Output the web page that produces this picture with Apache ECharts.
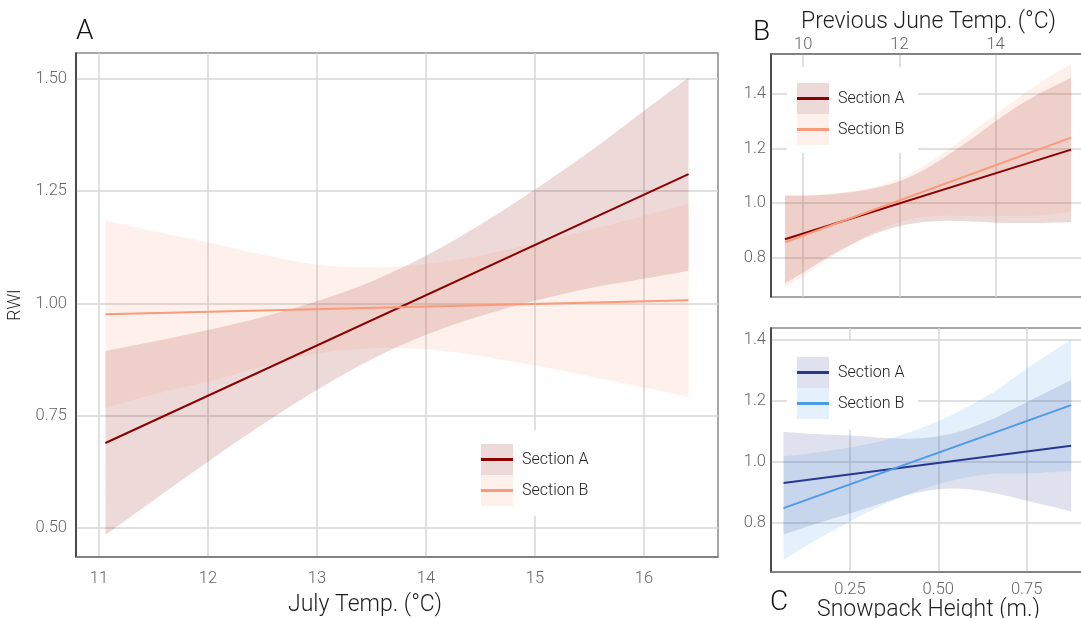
<!DOCTYPE html>
<html>
<head>
<meta charset="utf-8">
<title>RWI vs climate</title>
<script src="https://cdn.jsdelivr.net/npm/echarts@6/dist/echarts.min.js"></script>
<style>
  html, body { margin: 0; padding: 0; background: #fff; }
  #chart { width: 1081px; height: 618px; }
</style>
</head>
<body>
<div id="chart"></div>
<script>
// ---- panel A : July temperature ----
const julyTicks = [11, 12, 13, 14, 15, 16]
const rwiTicksA = [0.5, 0.75, 1.0, 1.25, 1.5]
const julyLineX = [11.06, 16.41]
const julySecA = [0.689, 1.288]
const julySecB = [0.976, 1.007]
const julyBandX = [11.06, 11.5, 12, 12.5, 13, 13.5, 14, 14.5, 15, 15.5, 16, 16.41]
const julyAUp = [0.894, 0.915, 0.941, 0.970, 1.005, 1.049, 1.106, 1.176, 1.254, 1.338, 1.429, 1.503]
const julyALo = [0.484, 0.561, 0.647, 0.730, 0.807, 0.875, 0.930, 0.972, 1.006, 1.034, 1.055, 1.073]
const julyBUp = [1.185, 1.161, 1.136, 1.109, 1.086, 1.080, 1.088, 1.107, 1.134, 1.164, 1.195, 1.222]
const julyBLo = [0.767, 0.797, 0.826, 0.859, 0.888, 0.900, 0.898, 0.883, 0.862, 0.838, 0.813, 0.792]

// ---- panel B : previous June temperature ----
const juneTicks = [10, 12, 14]
const rwiTicksB = [0.8, 1.0, 1.2, 1.4]
const juneLineX = [9.62, 15.57]
const juneSecA = [0.867, 1.196]
const juneSecB = [0.856, 1.240]
const juneBandX = [9.62, 10, 10.5, 11, 11.5, 12, 12.5, 13, 13.5, 14, 14.5, 15, 15.57]
const juneAUp = [1.027, 1.027, 1.030, 1.040, 1.055, 1.080, 1.120, 1.175, 1.235, 1.300, 1.360, 1.410, 1.460]
const juneALo = [0.705, 0.745, 0.800, 0.848, 0.888, 0.915, 0.930, 0.935, 0.932, 0.928, 0.927, 0.927, 0.929]
const juneBUp = [1.030, 1.030, 1.033, 1.043, 1.060, 1.090, 1.135, 1.195, 1.260, 1.325, 1.390, 1.450, 1.510]
const juneBLo = [0.692, 0.732, 0.793, 0.847, 0.894, 0.930, 0.949, 0.953, 0.952, 0.953, 0.952, 0.956, 0.969]

// ---- panel C : snowpack height ----
const snowTicks = [0.25, 0.5, 0.75]
const rwiTicksC = [0.8, 1.0, 1.2, 1.4]
const snowLineX = [0.062, 0.876]
const snowSecA = [0.929, 1.052]
const snowSecB = [0.847, 1.185]
const snowBandX = [0.062, 0.15, 0.25, 0.35, 0.45, 0.55, 0.65, 0.75, 0.876]
const snowAUp = [1.098, 1.090, 1.085, 1.077, 1.076, 1.095, 1.138, 1.195, 1.268]
const snowALo = [0.760, 0.794, 0.829, 0.867, 0.900, 0.911, 0.898, 0.871, 0.836]
const snowBUp = [1.017, 1.029, 1.047, 1.071, 1.109, 1.160, 1.223, 1.305, 1.401]
const snowBLo = [0.677, 0.739, 0.803, 0.861, 0.907, 0.940, 0.959, 0.961, 0.969]

const FONT = 'Roboto, "Liberation Sans", sans-serif'
const red = '#8b0000', salmon = '#fb9a78', navy = '#26388f', sky = '#4c9be8'
const redBand = 'rgba(139,0,0,0.15)', salmonBand = 'rgba(251,154,120,0.15)'
const navyBand = 'rgba(38,56,143,0.15)', skyBand = 'rgba(76,155,232,0.15)'

const tickText = { color: '#666', fontSize: 16.5, fontFamily: FONT, fontWeight: 300 }
const nameText = { color: '#1e1e1e', fontSize: 23, fontFamily: FONT, fontWeight: 300 }

function axis(gridIndex, min, max, ticks, digits, extra) {
  return Object.assign({
    type: 'value', gridIndex: gridIndex, min: min, max: max,
    axisLine: { show: true, onZero: false, lineStyle: { color: '#777', width: 1.5 } },
    axisTick: { show: false, customValues: ticks },
    axisLabel: Object.assign({ customValues: ticks, margin: 8, formatter: v => v.toFixed(digits) }, tickText),
    splitLine: { show: true, lineStyle: { color: '#d6d6d6', width: 1.5 } },
    nameLocation: 'middle',
    nameTextStyle: nameText
  }, extra || {})
}
const darkLine = { show: true, onZero: false, lineStyle: { color: '#2a2a2a', width: 1.5 } }

// smooth path through screen points (catmull-rom as bezier)
function curve(p) {
  let d = ''
  for (let i = 0; i < p.length - 1; i++) {
    const a = p[Math.max(i - 1, 0)], b = p[i], c = p[i + 1], e = p[Math.min(i + 2, p.length - 1)]
    d += ' C' + (b[0] + (c[0] - a[0]) / 6) + ',' + (b[1] + (c[1] - a[1]) / 6) + ' ' +
      (c[0] - (e[0] - b[0]) / 6) + ',' + (c[1] - (e[1] - b[1]) / 6) + ' ' + c[0] + ',' + c[1]
  }
  return d
}

function band(name, g, xs, lo, hi, fill) {
  return {
    type: 'custom', name: name, xAxisIndex: g, yAxisIndex: g, silent: true,
    data: xs.map((x, i) => [x, lo[i], hi[i]]),
    encode: { x: 0, y: [1, 2] },
    renderItem: function (params, api) {
      if (params.dataIndex !== 0) return null
      const up = xs.map((x, i) => api.coord([x, hi[i]]))
      const dn = xs.map((x, i) => api.coord([x, lo[i]])).reverse()
      const d = 'M' + up[0][0] + ',' + up[0][1] + curve(up) +
        ' L' + dn[0][0] + ',' + dn[0][1] + curve(dn) + ' Z'
      return { type: 'path', shape: { pathData: d }, style: { fill: fill } }
    }
  }
}

function line(name, g, xs, ys, color) {
  return {
    type: 'line', name: name, xAxisIndex: g, yAxisIndex: g,
    data: xs.map((x, i) => [x, ys[i]]),
    showSymbol: false, silent: true,
    lineStyle: { color: color, width: 2 }, itemStyle: { color: color }
  }
}

function legend(left, top, names) {
  return {
    orient: 'vertical', left: left, top: top, padding: 0, itemGap: 0,
    itemWidth: 32, itemHeight: 3, icon: 'rect', selectedMode: false,
    data: names,
    formatter: n => n.split('|')[0],
    itemStyle: { borderWidth: 0 },
    textStyle: { color: '#222', fontSize: 16, fontFamily: FONT, fontWeight: 300, lineHeight: 31, padding: [0, 0, 0, 4] }
  }
}

function box(x, y, w, h, fill, z) {
  return { type: 'rect', z: z, silent: true, shape: { x: x, y: y, width: w, height: h }, style: { fill: fill } }
}

const letter = { fontSize: 28, fontWeight: 300, fontFamily: FONT, color: '#111' }

const chart = echarts.init(document.getElementById('chart'))
chart.setOption({
  animation: false,
  backgroundColor: '#fff',
  title: [
    { text: 'A', left: 76, top: 18, padding: 0, textStyle: letter },
    { text: 'B', left: 753, top: 19, padding: 0, textStyle: letter },
    { text: 'C', left: 770, top: 589, padding: 0, textStyle: letter }
  ],
  grid: [
    { left: 76, top: 53, width: 642, height: 504, show: true, borderColor: '#8a8a8a', borderWidth: 1.5, containLabel: false, outerBoundsMode: 'none' },
    { left: 771, top: 54, width: 315, height: 243, show: true, borderColor: '#8a8a8a', borderWidth: 1.5, containLabel: false, outerBoundsMode: 'none' },
    { left: 771, top: 328, width: 315, height: 244, show: true, borderColor: '#8a8a8a', borderWidth: 1.5, containLabel: false, outerBoundsMode: 'none' }
  ],
  xAxis: [
    axis(0, 10.79, 16.68, julyTicks, 0, { name: 'July Temp. (°C)', nameGap: 37,
      axisLabel: Object.assign({ customValues: julyTicks, margin: 13, formatter: v => v.toFixed(0) }, tickText),
      nameTextStyle: Object.assign({ padding: [0, 64, 0, 0] }, nameText) }),
    axis(1, 9.33, 15.88, juneTicks, 0, { position: 'top', name: 'Previous June Temp. (°C)', nameGap: 20,
      axisLabel: Object.assign({ customValues: juneTicks, margin: 1, formatter: v => v.toFixed(0) }, tickText) }),
    axis(2, 0.0265, 0.918, snowTicks, 2, { name: 'Snowpack Height (m.)', nameGap: 22,
      axisLabel: Object.assign({ customValues: snowTicks, margin: 9, formatter: v => v.toFixed(2) }, tickText) })
  ],
  yAxis: [
    axis(0, 0.435, 1.558, rwiTicksA, 2, { name: 'RWI', nameGap: 48, axisLine: darkLine,
      axisLabel: Object.assign({ customValues: rwiTicksA, margin: 9, formatter: v => v.toFixed(2) }, tickText),
      nameTextStyle: Object.assign({}, nameText, { fontSize: 17.5 }) }),
    axis(1, 0.655, 1.547, rwiTicksB, 1, { axisLine: darkLine,
      axisLabel: Object.assign({ customValues: rwiTicksB, margin: 5, formatter: v => v.toFixed(1) }, tickText) }),
    axis(2, 0.637, 1.4385, rwiTicksC, 1, { axisLine: darkLine,
      axisLabel: Object.assign({ customValues: rwiTicksC, margin: 5, formatter: v => v.toFixed(1) }, tickText) })
  ],
  legend: [
    legend(481, 444, ['Section A|1', 'Section B|1']),
    legend(797, 83, ['Section A|2', 'Section B|2']),
    legend(797, 357, ['Section A|3', 'Section B|3'])
  ],
  graphic: [
    box(471, 430, 130, 86, '#fff', 3), box(481, 444, 32, 31, redBand, 3.5), box(481, 475, 32, 31, salmonBand, 3.5),
    box(787, 67, 131, 86, '#fff', 3), box(797, 83, 32, 31, redBand, 3.5), box(797, 114, 32, 31, salmonBand, 3.5),
    box(787, 341, 131, 89, '#fff', 3), box(797, 357, 32, 31, navyBand, 3.5), box(797, 388, 32, 31, skyBand, 3.5)
  ],
  series: [
    band('bandA1', 0, julyBandX, julyALo, julyAUp, redBand),
    band('bandB1', 0, julyBandX, julyBLo, julyBUp, salmonBand),
    line('Section A|1', 0, julyLineX, julySecA, red),
    line('Section B|1', 0, julyLineX, julySecB, salmon),
    band('bandA2', 1, juneBandX, juneALo, juneAUp, redBand),
    band('bandB2', 1, juneBandX, juneBLo, juneBUp, salmonBand),
    line('Section A|2', 1, juneLineX, juneSecA, red),
    line('Section B|2', 1, juneLineX, juneSecB, salmon),
    band('bandA3', 2, snowBandX, snowALo, snowAUp, navyBand),
    band('bandB3', 2, snowBandX, snowBLo, snowBUp, skyBand),
    line('Section A|3', 2, snowLineX, snowSecA, navy),
    line('Section B|3', 2, snowLineX, snowSecB, sky)
  ]
})
</script>
</body>
</html>
